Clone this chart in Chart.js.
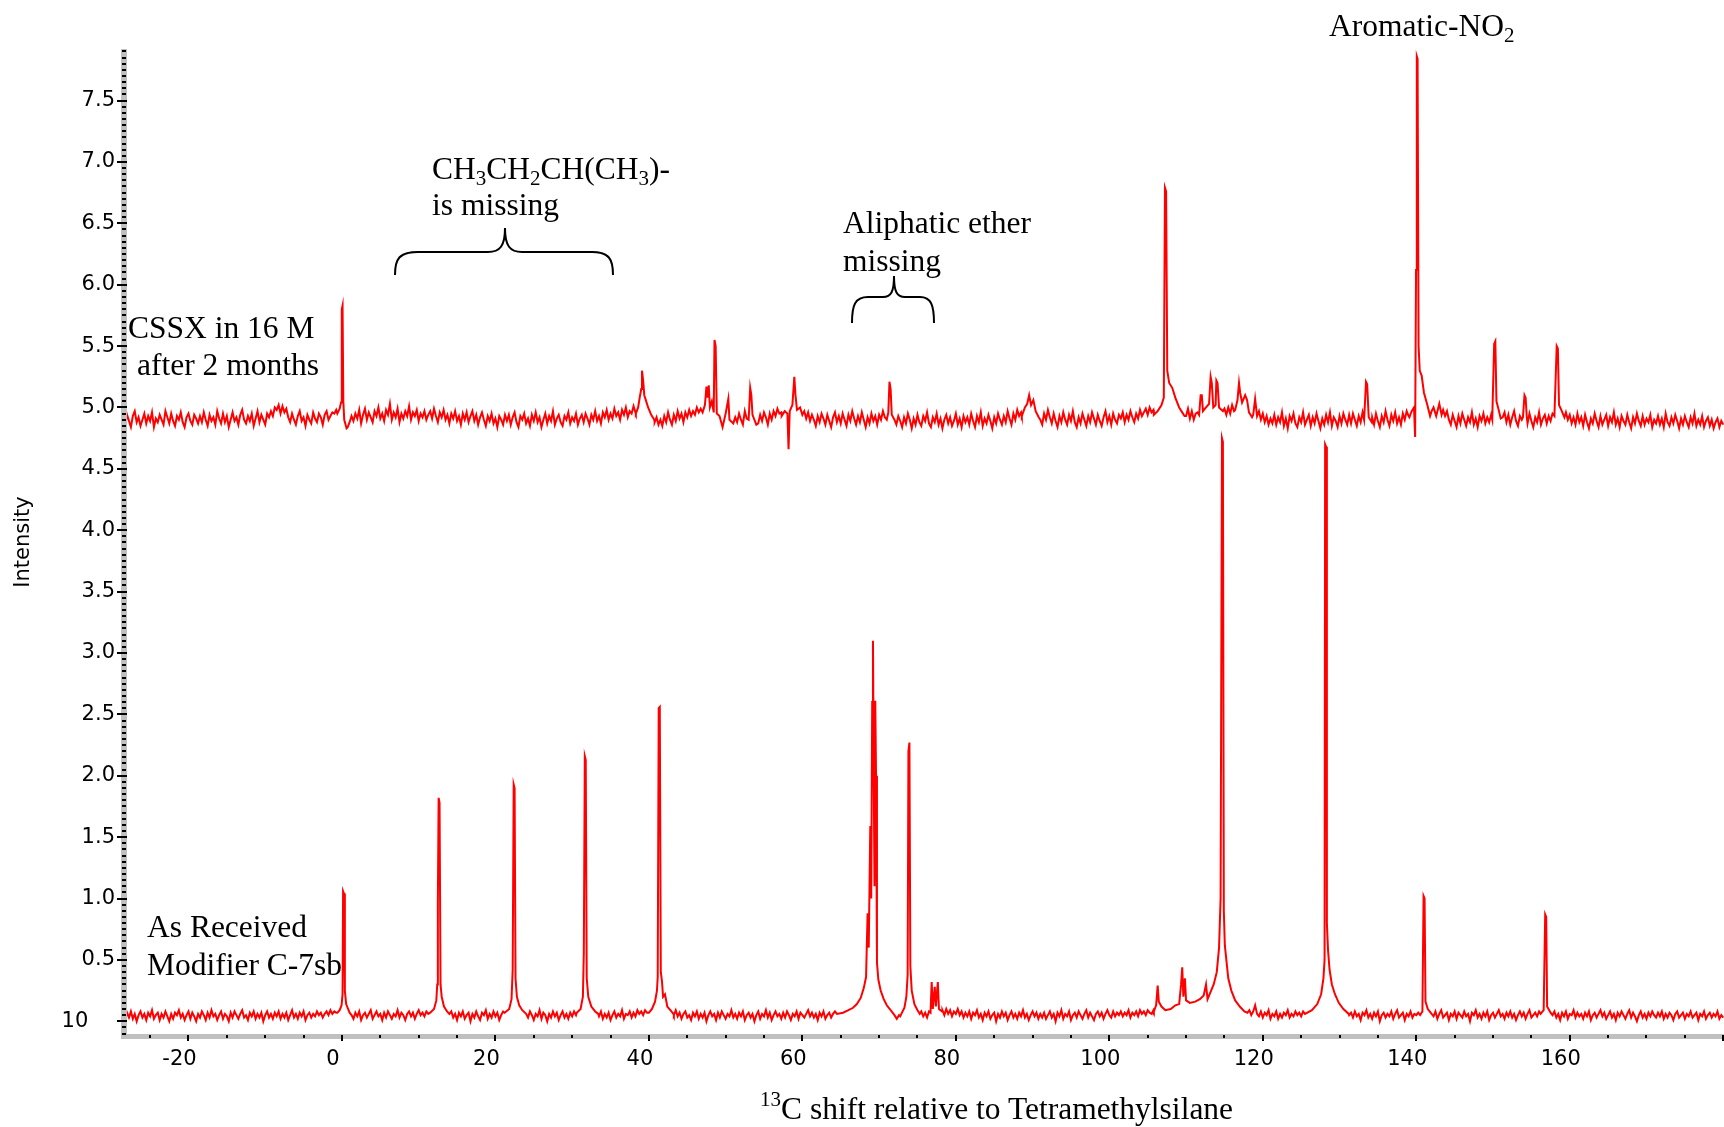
<!DOCTYPE html>
<html>
<head>
<meta charset="utf-8">
<title>13C NMR spectra</title>
<script src="https://cdn.jsdelivr.net/npm/chart.js@4.4.1/dist/chart.umd.min.js"></script>
<style>
  body { margin: 0; background: #fff; }
  #wrap { position: relative; width: 1724px; height: 1127px; }
  #spectra { position: absolute; left: 0; top: 0; }
  #notes { position: absolute; left: 0; top: 0; pointer-events: none; }
</style>
</head>
<body>
<div id="wrap">
  <canvas id="spectra" width="1724" height="1127"></canvas>
  <svg id="notes" width="1724" height="1127" font-family="'Liberation Serif','Times New Roman',serif" font-size="31.5" fill="#000">
    <text x="1329" y="36">Aromatic-NO<tspan font-size="21" dy="6">2</tspan></text>
    <text x="432" y="179">CH<tspan font-size="21" dy="6">3</tspan><tspan dy="-6">CH</tspan><tspan font-size="21" dy="6">2</tspan><tspan dy="-6">CH(CH</tspan><tspan font-size="21" dy="6">3</tspan><tspan dy="-6">)-</tspan></text>
    <text x="432" y="215">is missing</text>
    <text x="843" y="233">Aliphatic ether</text>
    <text x="843" y="271">missing</text>
    <text x="128" y="338">CSSX in 16 M</text>
    <text x="137" y="375">after 2 months</text>
    <text x="147" y="937">As Received</text>
    <text x="147" y="975">Modifier C-7sb</text>
    <text x="760" y="1119"><tspan font-size="21" dy="-13">13</tspan><tspan dy="13">C shift relative to Tetramethylsilane</tspan></text>
    <text transform="translate(29 542) rotate(-90)" text-anchor="middle" font-family="'DejaVu Sans',sans-serif" font-size="21">Intensity</text>
    <path d="M395,275 C395,259 399,252 418,252 L488,252 C500,252 505,246 505,228 C505,246 510,252 522,252 L592,252 C609,252 613,259 613,275" fill="none" stroke="#000" stroke-width="2"/>
    <path d="M852,323 C852,305 855,297 868,297 L883,297 C891,297 894,292 894,276 C894,292 897,297 905,297 L920,297 C931,297 934,305 934,323" fill="none" stroke="#000" stroke-width="2"/>
  </svg>
</div>
<script>
// baseline samples: first shift and spacing (ppm), one value per sample, 40 per 10 ppm row
var gridStart = -28.5;
var gridStep = 0.25;

var topBaseline = [
  4.91,4.86,4.94,4.89,4.84,4.93,4.97,4.88,4.92,4.85,4.90,4.95,4.87,4.93,4.89,4.96,4.84,4.91,4.88,4.94,
  4.90,4.86,4.97,4.92,4.87,4.95,4.89,4.85,4.93,4.90,4.96,4.88,4.84,4.92,4.95,4.89,4.86,4.94,4.91,4.87,
  4.93,4.88,4.96,4.90,4.85,4.94,4.89,4.92,4.86,4.97,4.91,4.87,4.95,4.88,4.93,4.84,4.90,4.96,4.89,4.92,
  4.86,4.94,4.98,4.90,4.87,4.93,4.89,4.95,4.85,4.91,4.97,4.88,4.94,4.90,4.86,4.95,4.92,4.97,4.93,5.00,
  4.98,5.02,4.95,5.01,4.96,4.99,4.92,4.88,4.95,4.90,4.86,4.93,4.97,4.89,4.92,4.85,4.94,4.90,4.87,4.96,
  4.91,4.88,4.95,4.92,4.86,4.94,4.97,4.90,4.93,4.96,4.95,4.98,4.97,4.97,4.97,4.97,4.97,4.84,4.88,4.93,
  4.89,4.95,4.91,4.98,4.87,4.94,4.99,4.90,4.96,4.92,4.88,4.97,4.93,5.00,4.91,4.95,4.89,4.98,4.94,5.03,
  4.90,4.96,4.92,4.99,4.88,4.95,4.91,4.97,4.93,5.01,4.90,4.96,4.93,4.98,4.89,4.95,4.92,4.97,4.90,4.94,
  4.97,4.91,4.99,4.93,4.88,4.96,4.92,4.98,4.90,4.94,4.87,4.95,4.91,4.97,4.89,4.93,4.86,4.95,4.90,4.96,
  4.88,4.93,4.97,4.89,4.94,4.86,4.92,4.96,4.90,4.85,4.93,4.89,4.95,4.87,4.91,4.84,4.93,4.90,4.86,4.94,
  4.89,4.94,4.86,4.92,4.96,4.88,4.84,4.93,4.90,4.95,4.87,4.91,4.85,4.94,4.89,4.96,4.88,4.92,4.84,4.90,
  4.95,4.87,4.93,4.89,4.97,4.86,4.91,4.94,4.88,4.85,4.93,4.90,4.96,4.87,4.92,4.89,4.95,4.86,4.91,4.94,
  4.88,4.95,4.91,4.86,4.94,4.90,4.97,4.89,4.93,4.87,4.96,4.92,4.98,4.90,4.95,4.91,4.99,4.93,4.96,4.90,
  4.98,4.94,5.00,4.92,4.97,4.95,5.01,4.96,4.98,4.98,4.98,4.98,4.98,4.98,4.98,4.98,4.98,4.88,4.92,4.86,
  4.90,4.85,4.93,4.88,4.96,4.90,4.86,4.94,4.89,4.97,4.91,4.95,4.88,4.96,4.92,4.98,4.93,4.97,4.94,5.00,
  4.96,4.99,4.95,4.95,4.95,4.95,4.95,4.95,4.95,4.95,4.95,4.95,4.95,4.95,4.95,4.95,4.95,4.95,4.95,4.92,
  4.88,4.95,4.90,4.86,4.97,4.91,4.92,4.92,4.92,4.92,4.92,4.87,4.94,4.89,4.96,4.92,4.86,4.95,4.90,4.97,
  4.93,4.99,4.95,4.96,4.96,4.96,4.96,4.96,4.96,4.96,4.96,4.96,4.96,4.96,4.96,4.97,4.91,4.96,4.89,4.94,
  4.90,4.85,4.93,4.88,4.95,4.91,4.86,4.94,4.89,4.84,4.92,4.96,4.88,4.93,4.87,4.95,4.90,4.85,4.94,4.89,
  4.97,4.91,4.86,4.93,4.88,4.96,4.90,4.84,4.92,4.87,4.95,4.89,4.93,4.86,4.94,4.90,4.97,4.92,4.92,4.92,
  4.92,4.92,4.92,4.86,4.93,4.89,4.84,4.92,4.87,4.95,4.90,4.83,4.91,4.86,4.94,4.88,4.85,4.93,4.89,4.96,
  4.87,4.84,4.92,4.88,4.95,4.86,4.91,4.83,4.90,4.94,4.87,4.92,4.85,4.89,4.95,4.86,4.91,4.84,4.93,4.88,
  4.92,4.86,4.95,4.89,4.84,4.93,4.88,4.96,4.85,4.91,4.87,4.94,4.89,4.83,4.92,4.87,4.95,4.90,4.86,4.93,
  4.88,4.97,4.91,4.86,4.95,4.90,4.98,4.93,4.96,4.96,4.96,4.96,4.96,4.96,4.96,4.96,4.96,4.96,4.90,4.86,
  4.95,4.90,4.98,4.92,4.87,4.95,4.89,4.84,4.93,4.88,4.96,4.90,4.86,4.94,4.89,4.97,4.88,4.84,4.92,4.87,
  4.95,4.90,4.85,4.93,4.88,4.96,4.91,4.86,4.94,4.89,4.85,4.92,4.97,4.88,4.93,4.86,4.95,4.90,4.87,4.94,
  4.91,4.96,4.88,4.94,4.90,4.97,4.92,4.88,4.95,4.91,4.98,4.93,4.96,4.99,4.94,5.00,4.96,4.98,4.97,4.97,
  4.97,4.97,4.97,4.97,4.97,4.97,4.97,4.97,4.97,4.97,4.97,4.97,4.97,4.97,4.93,4.99,4.91,4.97,4.90,4.95,
  4.96,4.97,4.97,4.97,4.97,4.97,4.97,4.97,4.97,4.97,4.97,4.97,4.97,4.97,4.99,4.94,5.00,4.95,5.02,4.97,
  4.97,4.97,4.97,4.97,4.97,4.97,4.97,4.97,4.97,4.94,5.07,4.93,4.97,4.90,4.95,4.88,4.93,4.86,4.91,4.87,
  4.94,4.86,4.92,4.88,4.96,4.85,4.91,4.83,4.93,4.89,4.95,4.87,4.84,4.92,4.88,4.96,4.86,4.90,4.94,4.85,
  4.92,4.87,4.95,4.89,4.83,4.91,4.86,4.94,4.88,4.96,4.85,4.92,4.89,4.84,4.93,4.87,4.95,4.90,4.86,4.94,
  4.87,4.95,4.90,4.85,4.93,4.88,4.96,4.92,4.92,4.92,4.92,4.92,4.86,4.95,4.89,4.84,4.93,4.88,4.97,4.90,
  4.85,4.94,4.89,4.96,4.87,4.92,4.86,4.95,4.90,4.97,4.93,4.95,4.95,4.95,4.95,4.95,4.95,4.95,4.95,4.95,
  4.95,4.95,4.97,5.00,4.95,4.97,4.97,4.97,4.98,4.93,4.97,4.90,4.86,4.94,4.89,4.84,4.93,4.87,4.95,4.90,
  4.85,4.92,4.88,4.96,4.86,4.91,4.84,4.93,4.89,4.95,4.87,4.92,4.88,4.94,4.94,4.94,4.94,4.94,4.94,4.92,
  4.96,4.88,4.94,4.86,4.92,4.97,4.89,4.85,4.93,4.90,4.92,4.92,4.87,4.95,4.89,4.84,4.92,4.88,4.96,4.86,
  4.91,4.94,4.87,4.93,4.89,4.95,4.94,4.94,4.94,4.94,4.94,4.94,4.96,4.90,4.94,4.87,4.92,4.86,4.95,4.88,
  4.92,4.85,4.94,4.88,4.83,4.91,4.87,4.95,4.89,4.84,4.93,4.86,4.90,4.94,4.85,4.92,4.88,4.96,4.86,4.91,
  4.84,4.93,4.89,4.86,4.94,4.88,4.83,4.92,4.87,4.95,4.89,4.85,4.93,4.86,4.91,4.88,4.94,4.84,4.90,4.87,
  4.93,4.86,4.91,4.84,4.95,4.88,4.85,4.92,4.87,4.94,4.89,4.83,4.91,4.86,4.93,4.88,4.84,4.92,4.87,4.95,
  4.85,4.90,4.86,4.93,4.84,4.89,4.92,4.85,4.90,4.83,4.88,4.91,4.84,4.89,4.86
];

var bottomBaseline = [
  0.05,0.01,0.07,0.03,0.08,0.02,0.06,0.00,0.05,0.08,0.03,0.06,0.01,0.07,0.04,0.09,0.02,0.05,0.07,0.01,
  0.06,0.03,0.08,0.04,0.00,0.06,0.02,0.07,0.05,0.09,0.03,0.06,0.01,0.05,0.08,0.02,0.07,0.04,0.00,0.06,
  0.03,0.08,0.05,0.01,0.07,0.03,0.09,0.04,0.06,0.01,0.05,0.08,0.02,0.06,0.04,0.00,0.07,0.03,0.08,0.05,
  0.02,0.06,0.09,0.03,0.05,0.01,0.07,0.04,0.08,0.02,0.06,0.03,0.07,0.00,0.05,0.08,0.03,0.06,0.02,0.07,
  0.04,0.08,0.02,0.06,0.03,0.07,0.01,0.05,0.09,0.03,0.06,0.02,0.07,0.04,0.08,0.01,0.05,0.07,0.03,0.06,
  0.04,0.08,0.05,0.07,0.03,0.06,0.08,0.05,0.09,0.06,0.08,0.07,0.06,0.06,0.06,0.06,0.06,0.06,0.06,0.05,
  0.02,0.07,0.04,0.08,0.01,0.05,0.07,0.03,0.06,0.09,0.02,0.05,0.08,0.04,0.06,0.01,0.07,0.03,0.08,0.05,
  0.02,0.06,0.04,0.09,0.03,0.07,0.05,0.01,0.06,0.08,0.04,0.07,0.02,0.06,0.09,0.05,0.07,0.04,0.08,0.06,
  0.06,0.06,0.06,0.06,0.06,0.06,0.06,0.06,0.06,0.06,0.06,0.08,0.03,0.06,0.01,0.07,0.04,0.08,0.02,0.05,
  0.07,0.00,0.06,0.03,0.08,0.04,0.01,0.07,0.05,0.09,0.02,0.06,0.03,0.08,0.04,0.07,0.01,0.05,0.08,0.06,
  0.06,0.06,0.06,0.06,0.06,0.06,0.06,0.06,0.06,0.06,0.06,0.03,0.08,0.05,0.01,0.06,0.04,0.09,0.02,0.07,
  0.05,0.00,0.06,0.03,0.08,0.04,0.07,0.01,0.05,0.08,0.03,0.06,0.02,0.07,0.04,0.08,0.05,0.06,0.06,0.06,
  0.06,0.06,0.06,0.06,0.06,0.06,0.06,0.06,0.04,0.08,0.02,0.06,0.03,0.07,0.01,0.05,0.08,0.03,0.06,0.04,
  0.09,0.02,0.06,0.05,0.08,0.03,0.07,0.04,0.09,0.06,0.08,0.05,0.09,0.07,0.07,0.07,0.07,0.07,0.07,0.07,
  0.07,0.07,0.07,0.07,0.07,0.07,0.07,0.05,0.09,0.04,0.07,0.02,0.06,0.08,0.03,0.05,0.01,0.07,0.04,0.08,
  0.02,0.06,0.03,0.07,0.00,0.05,0.08,0.04,0.06,0.01,0.07,0.03,0.08,0.05,0.02,0.06,0.04,0.09,0.03,0.06,
  0.02,0.07,0.04,0.08,0.01,0.05,0.07,0.03,0.06,0.00,0.05,0.08,0.02,0.06,0.04,0.09,0.03,0.07,0.01,0.05,
  0.08,0.04,0.06,0.02,0.07,0.03,0.08,0.05,0.01,0.06,0.04,0.08,0.02,0.07,0.05,0.03,0.06,0.09,0.04,0.07,
  0.03,0.06,0.01,0.07,0.04,0.08,0.02,0.05,0.07,0.03,0.06,0.08,0.06,0.06,0.06,0.06,0.06,0.06,0.06,0.06,
  0.06,0.06,0.06,0.06,0.06,0.06,0.06,0.06,0.06,0.06,0.06,0.06,0.06,0.06,0.06,0.06,0.06,0.06,0.06,0.06,
  0.06,0.06,0.06,0.06,0.06,0.04,0.06,0.06,0.06,0.06,0.06,0.06,0.06,0.06,0.06,0.06,0.08,0.04,0.07,0.03,
  0.08,0.06,0.06,0.06,0.06,0.06,0.06,0.09,0.05,0.10,0.06,0.09,0.04,0.08,0.06,0.10,0.05,0.08,0.03,0.07,
  0.04,0.08,0.02,0.07,0.05,0.09,0.03,0.06,0.01,0.07,0.04,0.08,0.02,0.05,0.07,0.00,0.06,0.03,0.08,0.04,
  0.07,0.01,0.05,0.08,0.03,0.06,0.02,0.07,0.04,0.09,0.03,0.06,0.01,0.05,0.08,0.04,0.07,0.02,0.06,0.03,
  0.07,0.02,0.05,0.08,0.03,0.06,0.00,0.07,0.04,0.09,0.02,0.06,0.04,0.08,0.01,0.05,0.07,0.03,0.08,0.05,
  0.02,0.06,0.09,0.03,0.07,0.04,0.01,0.06,0.08,0.04,0.07,0.02,0.06,0.09,0.05,0.03,0.08,0.04,0.07,0.05,
  0.08,0.04,0.07,0.05,0.09,0.03,0.07,0.05,0.08,0.04,0.09,0.06,0.08,0.05,0.09,0.07,0.06,0.09,0.08,0.08,
  0.08,0.08,0.08,0.08,0.08,0.08,0.08,0.08,0.08,0.08,0.08,0.08,0.08,0.08,0.08,0.08,0.08,0.08,0.08,0.08,
  0.08,0.08,0.08,0.08,0.08,0.08,0.08,0.08,0.08,0.08,0.08,0.08,0.08,0.08,0.08,0.08,0.08,0.08,0.08,0.08,
  0.08,0.08,0.08,0.08,0.08,0.08,0.08,0.09,0.05,0.08,0.13,0.06,0.04,0.08,0.03,0.07,0.05,0.09,0.02,0.06,
  0.04,0.08,0.02,0.06,0.03,0.07,0.05,0.09,0.03,0.06,0.04,0.08,0.05,0.07,0.04,0.08,0.06,0.06,0.06,0.06,
  0.06,0.06,0.06,0.06,0.06,0.06,0.06,0.06,0.06,0.06,0.06,0.06,0.06,0.06,0.06,0.06,0.06,0.06,0.06,0.05,
  0.07,0.03,0.08,0.04,0.06,0.01,0.07,0.05,0.09,0.03,0.06,0.02,0.07,0.04,0.08,0.00,0.05,0.07,0.03,0.06,
  0.04,0.08,0.02,0.06,0.09,0.03,0.05,0.07,0.01,0.06,0.04,0.08,0.03,0.06,0.05,0.07,0.06,0.06,0.06,0.06,
  0.06,0.06,0.06,0.04,0.08,0.02,0.06,0.09,0.03,0.05,0.07,0.01,0.06,0.04,0.08,0.02,0.07,0.05,0.03,0.08,
  0.04,0.06,0.00,0.07,0.05,0.09,0.03,0.06,0.02,0.07,0.04,0.08,0.01,0.05,0.07,0.03,0.06,0.09,0.04,0.06,
  0.02,0.07,0.04,0.08,0.03,0.06,0.01,0.05,0.08,0.04,0.07,0.02,0.06,0.09,0.03,0.05,0.07,0.04,0.08,0.06,
  0.06,0.06,0.06,0.06,0.06,0.05,0.08,0.03,0.06,0.01,0.07,0.04,0.08,0.02,0.06,0.05,0.09,0.03,0.07,0.04,
  0.06,0.02,0.07,0.04,0.08,0.01,0.05,0.07,0.03,0.06,0.09,0.04,0.07,0.02,0.05,0.08,0.03,0.06,0.01,0.07,
  0.04,0.08,0.05,0.02,0.06,0.09,0.03,0.07,0.04,0.00,0.05,0.08,0.03,0.06,0.02,0.07,0.04,0.08,0.05,0.03,
  0.07,0.04,0.08,0.02,0.06,0.03,0.07,0.05,0.01,0.06,0.08,0.03,0.05,0.07,0.02,0.06,0.04,0.08,0.03,0.05,
  0.07,0.01,0.06,0.04,0.08,0.02,0.05,0.07,0.03,0.06,0.04,0.08,0.02,0.05,0.03
];

// peak regions [shift, intensity]; they replace the baseline samples they cover
var topPeaks = [
  [[-0.6,4.95],[-0.3,4.99],[-0.12,5.04],[-0.02,5.8],[0.08,5.83],[0.18,5.05],[0.3,4.9],[0.6,4.83]],
  [[38.3,4.95],[38.6,5.0],[38.8,5.08],[39.0,5.15],[39.1,5.3],[39.25,5.22],[39.4,5.1],[39.6,5.06],[39.9,5.0],[40.3,4.94],[40.7,4.9]],
  [[47.0,4.96],[47.3,5.02],[47.5,5.17],[47.65,5.08],[47.8,5.18],[47.95,5.0],[48.2,5.05],[48.45,4.96],[48.55,5.55],[48.7,5.5],[48.85,4.95],[49.2,4.93],[49.6,4.84],[50.0,4.95],[50.35,5.07],[50.5,4.9],[51.0,4.87]],
  [[53.0,4.9],[53.2,5.16],[53.35,5.1],[53.5,4.94],[54.0,4.86]],
  [[57.3,4.93],[57.7,4.97],[58.05,4.95],[58.2,4.66],[58.35,4.97],[58.7,5.02],[58.95,5.25],[59.1,5.1],[59.3,4.98],[59.7,5.0],[60.0,4.94]],
  [[71.0,4.9],[71.2,4.96],[71.35,5.21],[71.5,5.15],[71.65,4.94],[72.0,4.9]],
  [[88.6,4.93],[89.0,5.0],[89.3,5.03],[89.55,5.1],[89.8,5.02],[90.1,5.06],[90.4,4.97],[90.8,4.92]],
  [[105.8,4.94],[106.3,4.97],[106.8,5.02],[107.1,5.08],[107.25,6.79],[107.4,6.76],[107.55,5.3],[107.8,5.2],[108.2,5.16],[108.6,5.08],[109.1,5.0],[109.5,4.96],[109.8,4.93]],
  [[111.7,4.94],[111.9,5.1],[112.05,5.1],[112.2,4.97],[112.6,5.0],[113.0,5.03],[113.2,5.25],[113.35,5.2],[113.55,5.0],[113.85,5.02],[113.95,5.22],[114.1,5.2],[114.3,5.0],[114.8,4.97]],
  [[116.4,4.98],[116.7,5.06],[116.9,5.2],[117.05,5.12],[117.3,5.04],[117.7,5.1],[117.95,5.06],[118.2,4.96],[118.6,4.92]],
  [[133.2,4.9],[133.45,5.21],[133.6,5.19],[133.8,4.92],[134.2,4.88]],
  [[139.1,4.92],[139.4,4.97],[139.7,5.0],[139.85,4.76],[139.97,6.12],[140.07,7.86],[140.17,7.84],[140.3,5.5],[140.45,5.3],[140.7,5.26],[141.0,5.12],[141.4,5.03],[141.8,4.93]],
  [[142.6,4.93],[143.0,5.03],[143.3,4.94]],
  [[149.9,4.9],[150.15,5.52],[150.3,5.54],[150.45,5.05],[150.7,4.99],[151.0,4.91]],
  [[153.9,4.92],[154.1,5.1],[154.25,5.08],[154.4,4.92]],
  [[158.0,4.93],[158.3,5.5],[158.45,5.48],[158.6,5.02],[158.9,4.98],[159.3,4.92]]
];

var bottomPeaks = [
  [[-0.6,0.07],[-0.3,0.09],[-0.05,0.13],[0.08,0.22],[0.15,1.06],[0.27,1.04],[0.38,0.25],[0.55,0.14],[0.8,0.1],[1.0,0.07]],
  [[11.5,0.07],[12.0,0.1],[12.3,0.17],[12.42,0.3],[12.5,0.98],[12.6,1.82],[12.72,1.78],[12.85,0.3],[13.0,0.2],[13.3,0.12],[13.7,0.08],[14.0,0.06]],
  [[21.2,0.07],[21.8,0.1],[22.1,0.18],[22.25,0.42],[22.38,1.93],[22.5,1.9],[22.62,0.35],[22.8,0.2],[23.1,0.13],[23.5,0.09],[24.0,0.06]],
  [[30.6,0.07],[31.1,0.1],[31.4,0.2],[31.52,0.56],[31.65,2.16],[31.77,2.13],[31.9,0.35],[32.1,0.2],[32.5,0.12],[33.0,0.08],[33.4,0.06]],
  [[40.0,0.07],[40.4,0.1],[40.8,0.16],[41.05,0.25],[41.15,0.36],[41.28,2.55],[41.42,2.56],[41.55,0.4],[41.7,0.33],[41.85,0.2],[42.1,0.22],[42.4,0.12],[42.8,0.09],[43.2,0.06]],
  [[64.5,0.06],[65.3,0.07],[66.0,0.09],[66.6,0.11],[67.1,0.14],[67.6,0.19],[68.0,0.27],[68.3,0.36],[68.5,0.88],[68.65,0.6],[68.85,1.59],[68.97,1.0],[69.1,2.6],[69.2,3.1],[69.32,1.8],[69.4,1.1],[69.5,2.61],[69.6,2.0],[69.72,0.48],[69.9,0.34],[70.2,0.25],[70.6,0.18],[71.0,0.13],[71.5,0.09],[72.0,0.05],[72.3,0.02],[72.6,0.05]],
  [[72.9,0.06],[73.3,0.11],[73.55,0.2],[73.72,0.38],[73.82,2.2],[73.95,2.27],[74.07,0.45],[74.25,0.25],[74.6,0.14],[75.0,0.09],[75.3,0.06]],
  [[76.7,0.07],[76.85,0.32],[77.0,0.1],[77.25,0.28],[77.4,0.12],[77.65,0.32],[77.8,0.1],[78.2,0.08]],
  [[105.8,0.08],[106.1,0.13],[106.3,0.29],[106.45,0.16],[106.8,0.12],[107.3,0.09],[108.0,0.1],[108.6,0.13],[109.1,0.14],[109.35,0.3],[109.5,0.44],[109.65,0.2],[109.85,0.35],[110.0,0.17],[110.5,0.15],[111.2,0.16],[111.8,0.18],[112.3,0.21],[112.6,0.3],[112.8,0.18],[113.2,0.24],[113.6,0.3],[114.0,0.4],[114.3,0.6],[114.5,1.0],[114.68,4.75],[114.8,4.72],[114.92,0.9],[115.05,0.62],[115.25,0.5],[115.5,0.35],[115.9,0.25],[116.4,0.17],[117.0,0.12],[117.6,0.08],[118.0,0.07]],
  [[125.5,0.06],[126.4,0.09],[127.1,0.14],[127.6,0.22],[127.9,0.35],[128.05,0.5],[128.12,4.7],[128.25,4.68],[128.35,0.8],[128.5,0.58],[128.7,0.42],[129.0,0.3],[129.4,0.22],[129.9,0.15],[130.5,0.1],[131.2,0.06]],
  [[140.5,0.05],[140.8,0.08],[140.95,1.02],[141.08,1.0],[141.2,0.16],[141.5,0.1],[142.0,0.06]],
  [[156.2,0.06],[156.6,0.09],[156.8,0.87],[156.93,0.85],[157.05,0.12],[157.5,0.07]]
];

var xTicks = [-20, 0, 20, 40, 60, 80, 100, 120, 140, 160];
var yTicks = [0, 0.5, 1, 1.5, 2, 2.5, 3, 3.5, 4, 4.5, 5, 5.5, 6, 6.5, 7, 7.5];
var yTickLabels = ['10', '0.5', '1.0', '1.5', '2.0', '2.5', '3.0', '3.5', '4.0', '4.5', '5.0', '5.5', '6.0', '6.5', '7.0', '7.5'];

function buildSeries(baseline, peaks) {
  var pts = [];
  baseline.forEach(function(v, i) {
    var x = gridStart + i * gridStep;
    var covered = peaks.some(function(g) { return x >= g[0][0] && x <= g[g.length - 1][0]; });
    if (!covered) pts.push({x: x, y: v});
  });
  peaks.forEach(function(g) {
    g.forEach(function(p) { pts.push({x: p[0], y: p[1]}); });
  });
  return pts.sort(function(a, b) { return a.x - b.x; });
}

// grey axis bands with black tick marks (minor ticks every 0.05 / 5 ppm)
var axisBands = {
  id: 'axisBands',
  afterDatasetsDraw: function(chart) {
    var ctx = chart.ctx, a = chart.chartArea, x = chart.scales.x, y = chart.scales.y;
    ctx.save();
    ctx.fillStyle = '#c0c0c0';
    ctx.fillRect(a.left - 3, a.top, 6, a.bottom + 3 - a.top);
    ctx.fillRect(a.left - 3, a.bottom - 2, a.right - a.left + 3, 5);
    ctx.fillStyle = '#000';
    for (var k = -2; k <= 158; k++) {
      var py = Math.round(y.getPixelForValue(k * 0.05));
      if (py < a.top || py > a.bottom) continue;
      if (k % 10 === 0) ctx.fillRect(a.left - 7, py - 1, 10, 2);
      else ctx.fillRect(a.left - 2, py - 1, 4, 2);
    }
    for (var j = -5; j <= 36; j++) {
      var px = Math.round(x.getPixelForValue(j * 5));
      if (px < a.left || px > a.right) continue;
      if (j % 4 === 0) ctx.fillRect(px - 1, a.bottom - 1, 2, 6);
      else ctx.fillRect(px - 1, a.bottom - 1, 2, 3);
    }
    ctx.restore();
  }
};

Chart.defaults.font.family = "'DejaVu Sans', sans-serif";
Chart.defaults.color = '#000';

new Chart(document.getElementById('spectra'), {
  type: 'line',
  data: {
    datasets: [
      {
        label: 'CSSX in 16 M after 2 months',
        data: buildSeries(topBaseline, topPeaks),
        borderColor: '#ff0000',
        borderWidth: 2,
        pointRadius: 0,
        tension: 0
      },
      {
        label: 'As Received Modifier C-7sb',
        data: buildSeries(bottomBaseline, bottomPeaks),
        borderColor: '#ff0000',
        borderWidth: 2,
        pointRadius: 0,
        tension: 0
      }
    ]
  },
  options: {
    responsive: false,
    animation: false,
    events: [],
    layout: { padding: { top: 49, left: 0, right: 0, bottom: 0 } },
    plugins: {
      legend: { display: false },
      tooltip: { enabled: false }
    },
    scales: {
      x: {
        type: 'linear',
        min: -28.4,
        max: 180.1,
        afterBuildTicks: function(scale) { scale.ticks = xTicks.map(function(v) { return {value: v}; }); },
        afterFit: function(scale) { scale.height = 91; },
        grid: { display: false, drawTicks: false },
        border: { display: false },
        ticks: {
          font: { size: 21 },
          padding: 11,
          labelOffset: -9,
          maxRotation: 0,
          autoSkip: false,
          callback: function(v) { return String(v); }
        }
      },
      y: {
        type: 'linear',
        min: -0.12,
        max: 7.92,
        afterBuildTicks: function(scale) { scale.ticks = yTicks.map(function(v) { return {value: v}; }); },
        afterFit: function(scale) { scale.width = 124; },
        grid: { display: false, drawTicks: false },
        border: { display: false },
        ticks: {
          font: { size: 21 },
          padding: 9,
          autoSkip: false,
          callback: function(v, i) { return yTickLabels[i] + (v === 0 ? '    ' : ''); }
        }
      }
    }
  },
  plugins: [axisBands]
});
</script>
</body>
</html>
